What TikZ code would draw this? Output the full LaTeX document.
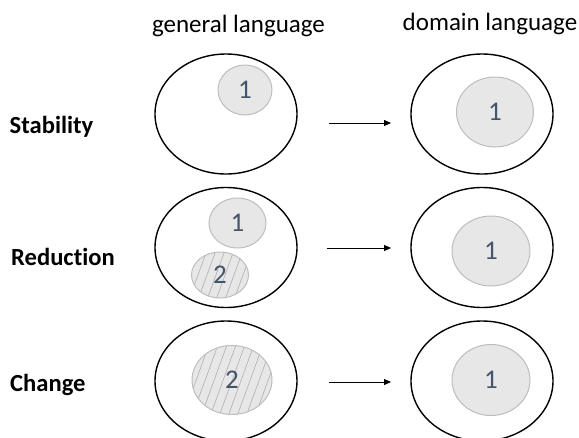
\documentclass[tikz,border=0pt]{standalone}
\usepackage{fontspec}
\setmainfont{Carlito}[Ligatures=NoCommon]
\usetikzlibrary{shapes.geometric,arrows.meta}
\definecolor{numcol}{HTML}{44546A}
\definecolor{innerfill}{HTML}{E7E7E7}
\definecolor{innerdraw}{HTML}{BDBDBD}
\definecolor{hatchcol}{HTML}{A6A6A6}
\tikzset{
  outer/.style={ellipse, draw=black, line width=1.4pt, minimum width=142pt, minimum height=120pt, inner sep=0pt},
  inner/.style={ellipse, draw=innerdraw, fill=innerfill, line width=1pt, inner sep=0pt, text=numcol, font=\fontsize{27}{27}\selectfont},
  hatched/.style={inner, path picture={
      \foreach \k in {-12,...,12}{
        \draw[hatchcol, line width=0.5pt] ([xshift=\k*9pt-25pt, yshift=-10pt]path picture bounding box.south) -- ++(70:120pt);
      }}},
  rowlabel/.style={anchor=base west, font=\bfseries\fontsize{24.6}{25}\selectfont, inner sep=0pt},
  header/.style={anchor=base, font=\fontsize{25}{25}\selectfont, inner sep=0pt},
  conn/.style={line width=0.9pt, -{Triangle[length=7pt,width=6pt]}}
}
\begin{document}
\begin{tikzpicture}[x=1pt,y=-1pt]
\useasboundingbox (0,0) rectangle (579,437);
\clip (0,0) rectangle (579,437);
% headers
\node[header] (hg) at (238.5,32) {general language};
\node[header] (hd) at (490,30) {domain language};
% row labels
\node[rowlabel] (ls) at (9.5,133) {Stability};
\node[rowlabel] (lr) at (11,265) {Reduction};
\node[rowlabel] (lc) at (10,391) {Change};
% row 1
\node[outer] (o1l) at (226,114) {};
\node[outer] (o1r) at (482,114) {};
\node[inner, minimum width=54pt, minimum height=50pt] (i1l) at (245,90) {1};
\node[inner, minimum width=77pt, minimum height=70pt] (i1r) at (495,112) {1};
\coordinate (a1s) at (329,123);
\coordinate (a1e) at (391,123);
\draw[conn] (a1s) -- (a1e);
% row 2
\node[outer] (o2l) at (226,247.5) {};
\node[outer] (o2r) at (482,247.5) {};
\node[inner, minimum width=57pt, minimum height=50pt] (i2a) at (237.5,223) {1};
\node[hatched, minimum width=57pt, minimum height=46pt] (i2b) at (220,275) {2};
\node[inner, minimum width=78pt, minimum height=70pt] (i2r) at (491,251) {1};
\coordinate (a2s) at (327,248);
\coordinate (a2e) at (391,248);
\draw[conn] (a2s) -- (a2e);
% row 3
\node[outer] (o3l) at (226,381) {};
\node[outer] (o3r) at (482,381) {};
\node[hatched, minimum width=80pt, minimum height=69pt] (i3l) at (232,380) {2};
\node[inner, minimum width=78pt, minimum height=71pt] (i3r) at (491,380) {1};
\coordinate (a3s) at (329,382);
\coordinate (a3e) at (391,382);
\draw[conn] (a3s) -- (a3e);
\end{tikzpicture}
\end{document}
